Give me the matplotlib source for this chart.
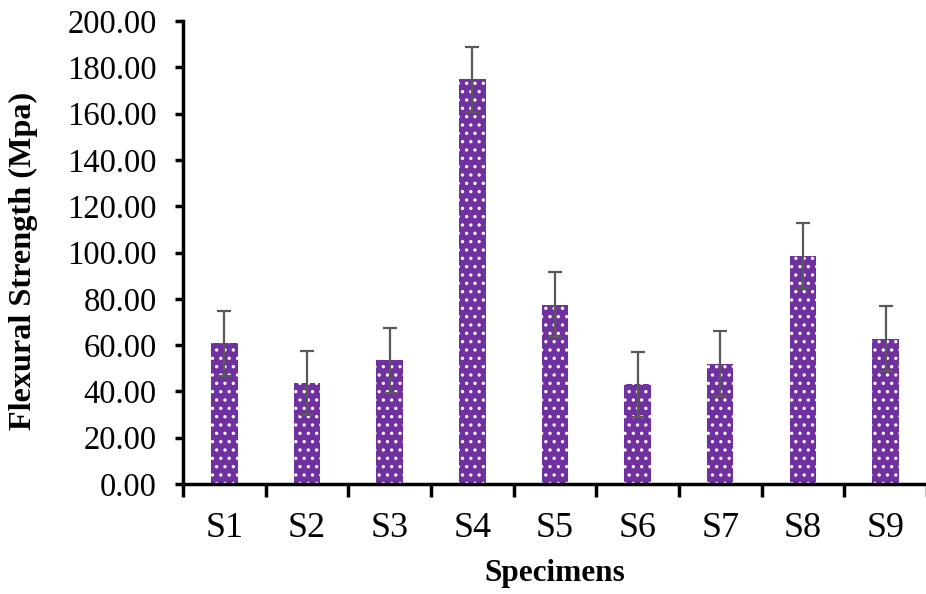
import matplotlib.pyplot as plt
import numpy as np

specimens = ["S1", "S2", "S3", "S4", "S5", "S6", "S7", "S8", "S9"]
strength = [60.8, 43.6, 53.5, 174.8, 77.4, 43.0, 52.0, 98.6, 62.8]
error = [14.0, 14.0, 14.0, 14.0, 14.0, 14.0, 14.0, 14.0, 14.0]
yticks = [0, 20, 40, 60, 80, 100, 120, 140, 160, 180, 200]

plt.rcParams['font.family'] = ['Liberation Serif', 'DejaVu Serif']
plt.rcParams['hatch.color'] = 'white'
plt.rcParams['hatch.linewidth'] = 1.2

fig = plt.figure(figsize=(9.26, 5.94), dpi=100)
ax = fig.add_axes([0.1976, 0.1852, 0.8034, 0.7794])

x = np.arange(len(specimens))
ax.bar(x, strength, width=0.32, color='#7030A0', edgecolor='white',
       linewidth=0, hatch='..', zorder=2)
ax.errorbar(x, strength, yerr=error, fmt='none', ecolor='#595959',
            elinewidth=1.6, capsize=5, capthick=1.6, zorder=3)

ax.set_xlim(-0.5, 8.5)
ax.set_ylim(0, 200)
ax.set_yticks(yticks)
ax.set_yticklabels([f"{v:.2f}" for v in yticks])
ax.set_xticks(x)
ax.set_xticklabels(specimens)
ax.set_xticks(np.arange(-0.5, 9.0, 1.0), minor=True)

for side in ['top', 'right']:
    ax.spines[side].set_visible(False)
for side in ['left', 'bottom']:
    ax.spines[side].set_linewidth(2.5)

ax.tick_params(axis='y', direction='out', length=6, width=2.5, labelsize=23.5, pad=13)
ax.tick_params(axis='x', which='major', length=0, labelsize=26, pad=20)
ax.tick_params(axis='x', which='minor', direction='out', length=9, width=2.5)

ax.set_xlabel("Specimens", fontsize=22.5, fontweight='bold', labelpad=10)
ax.set_ylabel("Flexural Strength (Mpa)", fontsize=23.2, fontweight='bold')
ax.yaxis.set_label_coords(-0.195, 0.482)

fig.savefig("out.png", dpi=100)
